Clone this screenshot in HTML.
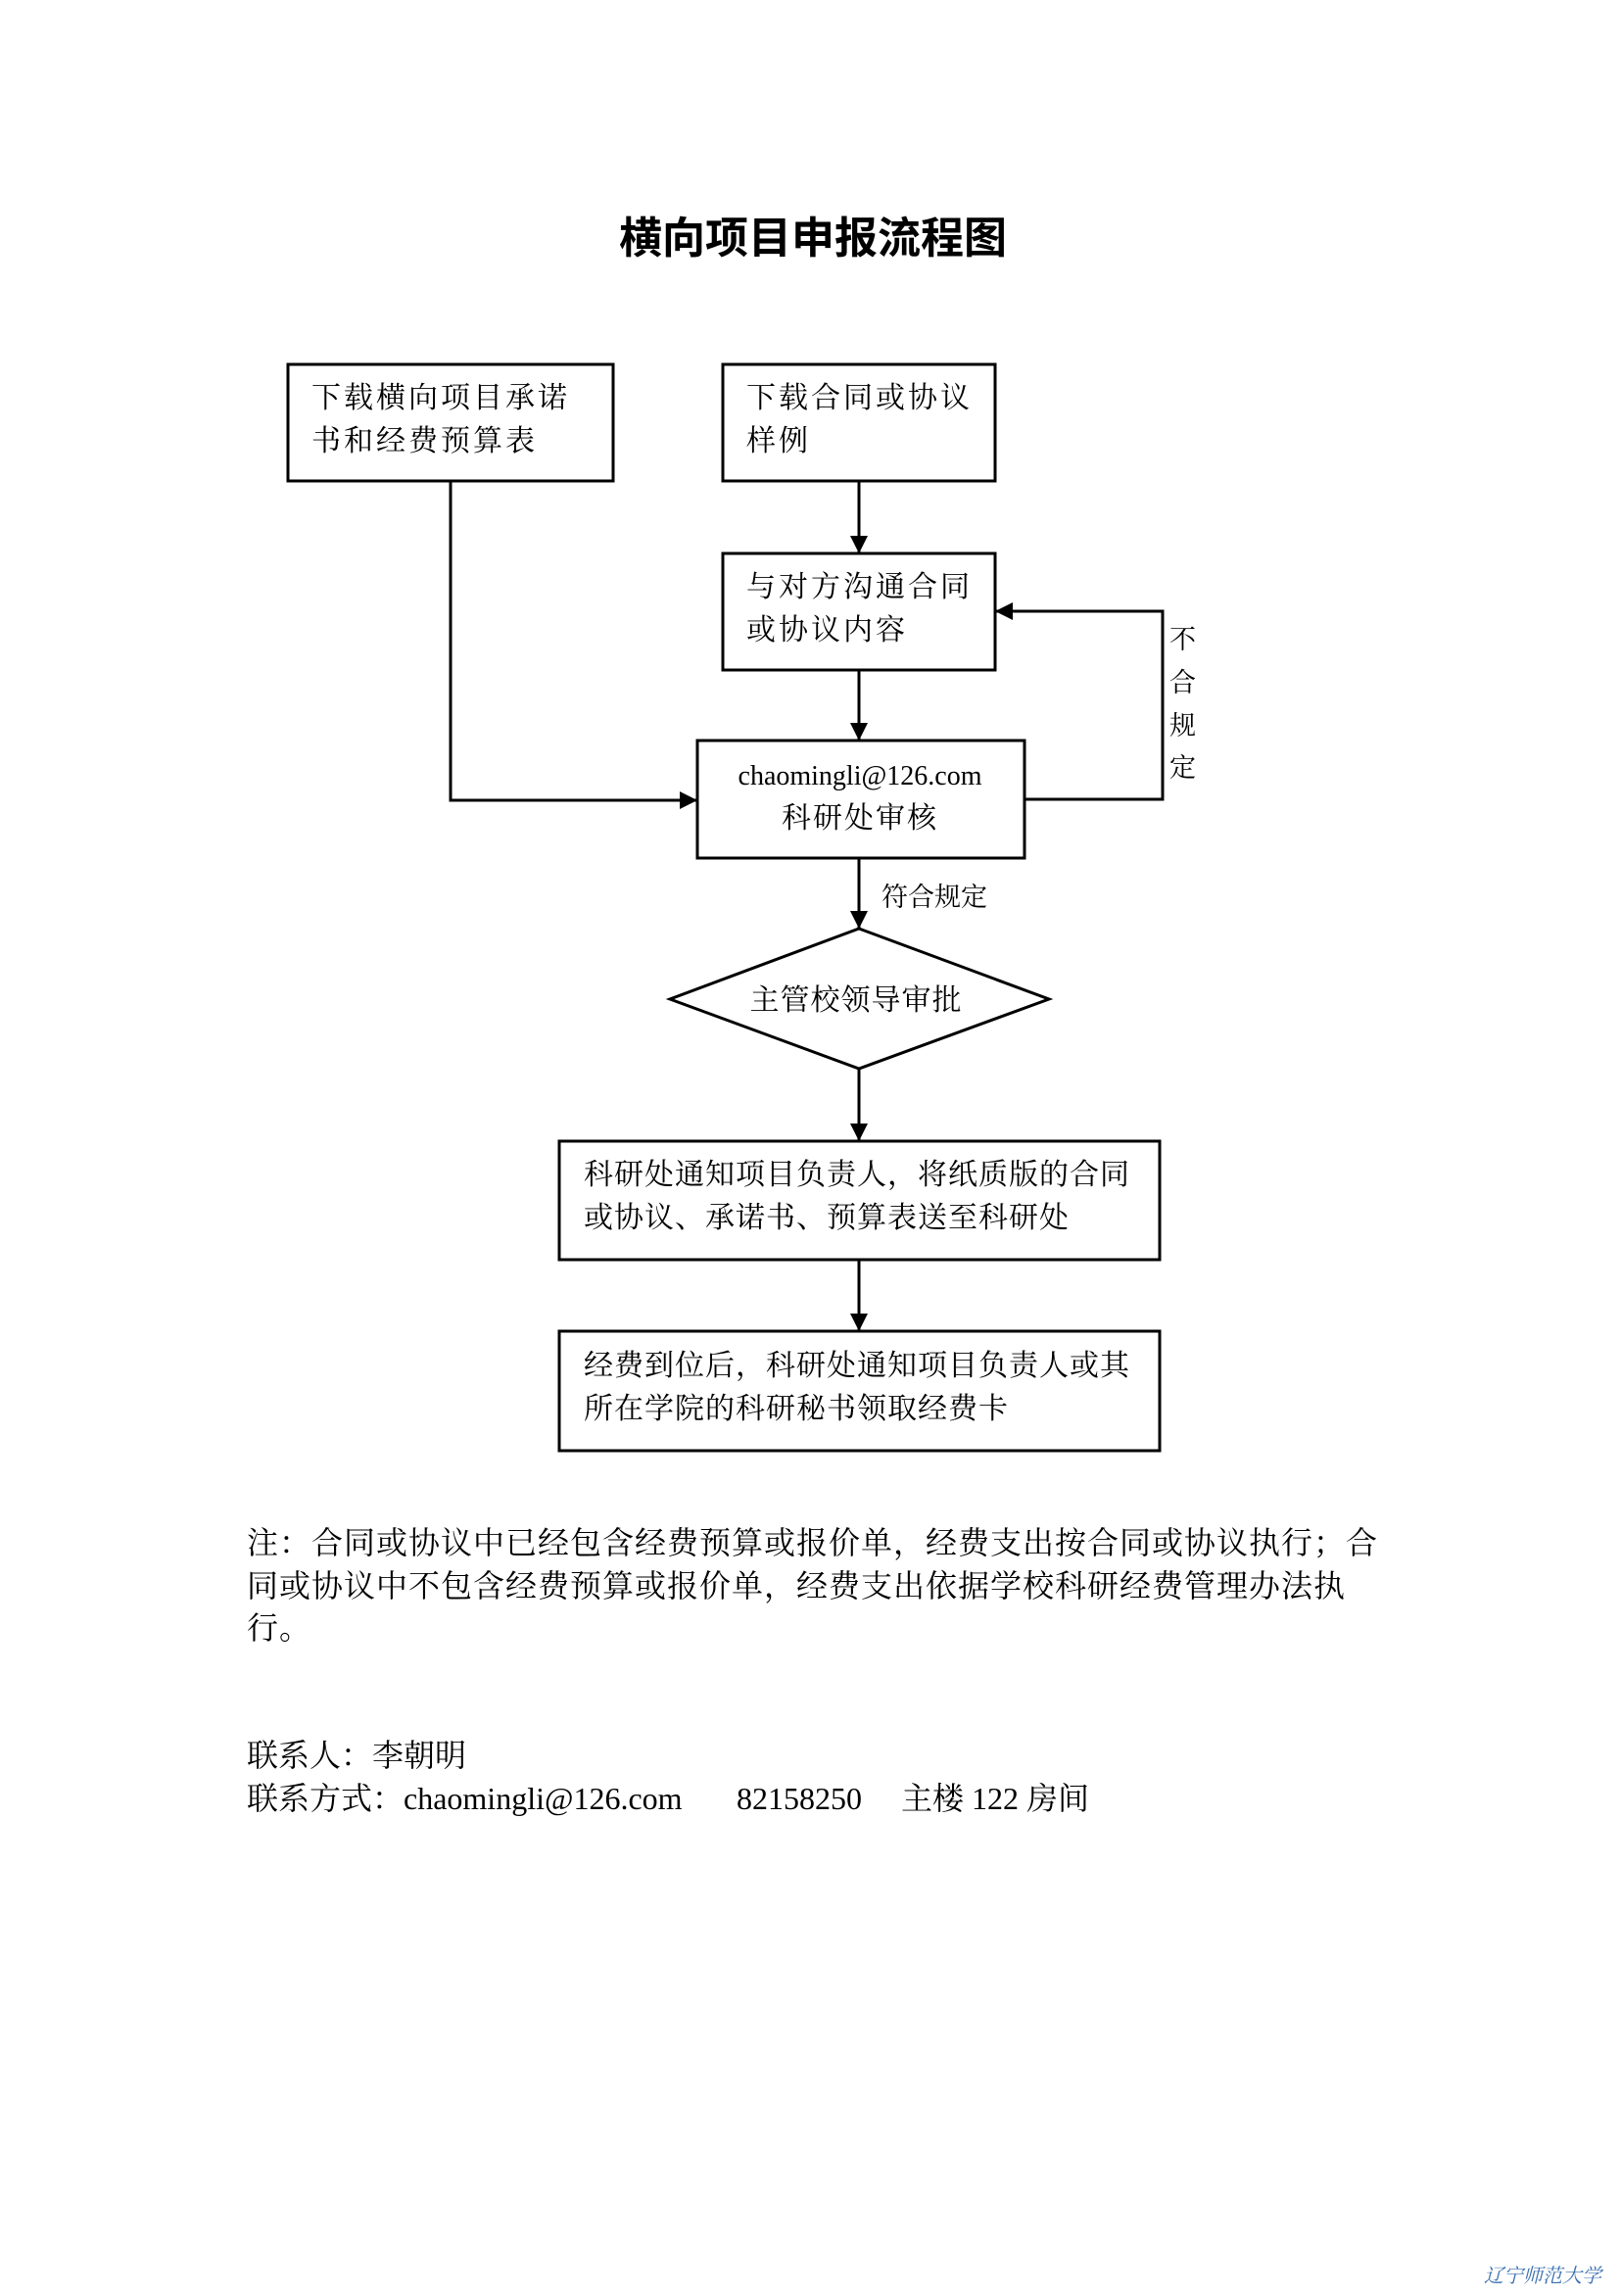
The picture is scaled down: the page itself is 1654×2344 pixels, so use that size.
<!DOCTYPE html>
<html><head><meta charset="utf-8"><style>
html,body{margin:0;padding:0;background:#fff}
svg text{font-family:"Liberation Serif","Noto Serif CJK SC","Noto Sans CJK SC",serif;fill:#000}
</style></head><body>
<svg width="1654" height="2339" viewBox="0 0 1654 2339" xmlns="http://www.w3.org/2000/svg">
<defs>
<marker id="b" viewBox="0 0 10 10" markerWidth="18" markerHeight="18" refX="10" refY="5" orient="auto" markerUnits="userSpaceOnUse"><path d="M0,0 L10,5 L0,10z" fill="#000"/></marker></defs>
<text x="830" y="258" font-size="44" font-weight="bold" text-anchor="middle" style="font-family:'Noto Sans CJK SC',sans-serif">横向项目申报流程图</text>
<g fill="none" stroke="#000" stroke-width="3">
<rect x="294" y="372" width="332" height="119"/>
<rect x="738" y="372" width="278" height="119"/>
<rect x="738" y="565" width="278" height="119"/>
<rect x="712" y="756" width="334" height="120"/>
<polygon points="877,948 1071,1020 877,1091 684,1020"/>
<rect x="571" y="1165" width="613" height="121"/>
<rect x="571" y="1359" width="613" height="122"/>
<line x1="877" y1="491" x2="877" y2="565" marker-end="url(#b)"/>
<line x1="877" y1="684" x2="877" y2="756" marker-end="url(#b)"/>
<line x1="877" y1="876" x2="877" y2="948" marker-end="url(#b)"/>
<line x1="877" y1="1091" x2="877" y2="1165" marker-end="url(#b)"/>
<line x1="877" y1="1286" x2="877" y2="1359" marker-end="url(#b)"/>
<polyline points="460,491 460,817 712,817" marker-end="url(#b)"/>
<polyline points="1046,816 1187,816 1187,624 1016,624" marker-end="url(#b)"/>
</g>
<g font-size="30" letter-spacing="3">
<text x="318" y="416">下载横向项目承诺</text>
<text x="318" y="460">书和经费预算表</text>
<text x="762" y="416">下载合同或协议</text>
<text x="762" y="460">样例</text>
<text x="762" y="609">与对方沟通合同</text>
<text x="762" y="653">或协议内容</text>
</g>
<text x="878" y="801" font-size="28" text-anchor="middle">chaomingli@126.com</text>
<text x="878" y="845" font-size="30" text-anchor="middle" letter-spacing="2">科研处审核</text>
<text x="874" y="1031" font-size="30" text-anchor="middle" letter-spacing="1">主管校领导审批</text>
<g font-size="30" letter-spacing="1">
<text x="596" y="1209">科研处通知项目负责人，将纸质版的合同</text>
<text x="596" y="1253">或协议、承诺书、预算表送至科研处</text>
<text x="596" y="1404">经费到位后，科研处通知项目负责人或其</text>
<text x="596" y="1448">所在学院的科研秘书领取经费卡</text>
</g>
<g font-size="27">
<text x="1194" y="662">不</text><text x="1194" y="706">合</text><text x="1194" y="750">规</text><text x="1194" y="793">定</text>
<text x="900" y="925">符合规定</text>
</g>
<g font-size="32" letter-spacing="1">
<text x="252" y="1586">注：合同或协议中已经包含经费预算或报价单，经费支出按合同或协议执行；合</text>
<text x="252" y="1630">同或协议中不包含经费预算或报价单，经费支出依据学校科研经费管理办法执</text>
<text x="252" y="1673">行。</text>
</g>
<g font-size="32">
<text x="252" y="1803">联系人：李朝明</text>
<text x="252" y="1847">联系方式：chaomingli@126.com<tspan x="752">82158250</tspan><tspan x="920">主楼 122 房间</tspan></text>
</g>
<text x="1515" y="2330" font-size="20" font-style="italic" style="fill:#3a6fb0">辽宁师范大学</text>
</svg>
</body></html>
